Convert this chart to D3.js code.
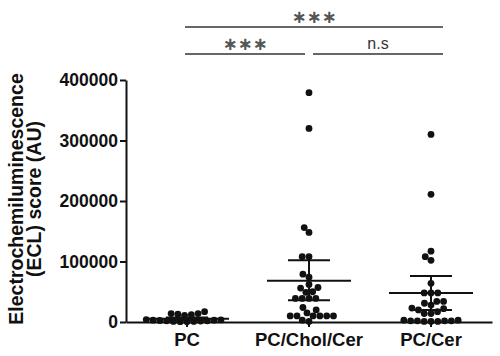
<!DOCTYPE html>
<html>
<head>
<meta charset="utf-8">
<script src="https://cdn.jsdelivr.net/npm/d3@7"></script>
<style>
  html, body { margin: 0; padding: 0; background: #fff; }
  svg { display: block; font-family: "Liberation Sans", Arial, sans-serif; }
  .axis path, .axis line { stroke: #111; stroke-width: 2; }
  .axis text { fill: #111; font-weight: bold; }
</style>
</head>
<body>
<svg id="chart" width="500" height="356"></svg>
<script>
const groups = ["PC", "PC/Chol/Cer", "PC/Cer"];

// ECL scores (AU)
const pcValues = [17000, 14000, 14000, 13000, 12000, 11000, 4000, 3500, 3000, 3000, 2500,
  2000, 2000, 1500, 1000, 1000, 500, 500];
const cholValues = [379000, 320000, 156000, 148000, 108000, 108000, 79000, 74000, 62000, 57000,
  56000, 50000, 49000, 39000, 39000, 39000, 39000, 24000, 20000, 15000, 10000, 10000, 10000,
  10000, 10000, 10000, 3000, 1000];
const cerValues = [310000, 211000, 117000, 108000, 102000, 64000, 48000, 48000, 48000, 34000,
  34000, 31000, 28000, 23000, 22000, 20000, 17000, 14000, 14000, 3000, 3000, 2000, 2000, 2000,
  2000, 1000, 1000, 1000];

const means = [5500, 68000, 48000];
const errLow = [3500, 36000, 20000];
const errHigh = [7500, 102000, 76000];

const yTicks = [0, 100000, 200000, 300000, 400000];

const sigFrom = ["PC", "PC/Chol/Cer", "PC"];
const sigTo = ["PC/Chol/Cer", "PC/Cer", "PC/Cer"];
const sigLabels = ["***", "n.s", "***"];
const sigRows = [0, 0, 1];

const svg = d3.select("#chart");
const width = 500, height = 356;
const margin = { top: 80, right: 8, bottom: 34, left: 126 };

const x = d3.scaleBand().domain(groups).range([margin.left, width - margin.right]).padding(0);
const y = d3.scaleLinear().domain([0, 400000]).range([height - margin.bottom, margin.top]);
const cx = g => x(g) + x.bandwidth() / 2;

svg.append("rect").attr("width", width).attr("height", height).attr("fill", "#fff");

// axes
const yAxis = svg.append("g").attr("class", "axis")
  .attr("transform", `translate(${margin.left},0)`)
  .call(d3.axisLeft(y).tickValues(yTicks).tickSize(6).tickSizeOuter(0).tickPadding(2).tickFormat(d3.format("d")));
yAxis.selectAll("text").style("font-size", "17.5px");

const xAxis = svg.append("g").attr("class", "axis")
  .attr("transform", `translate(0,${height - margin.bottom})`)
  .call(d3.axisBottom(x).tickSize(5).tickSizeOuter(0).tickPadding(6));
xAxis.selectAll("text").style("font-size", "18.5px");

// y axis title, two lines
const title = svg.append("text")
  .attr("transform", `translate(0,${(margin.top + height - margin.bottom) / 2 - 2}) rotate(-90)`)
  .attr("text-anchor", "middle")
  .attr("fill", "#111")
  .style("font-size", "19.5px")
  .style("font-weight", "bold");
title.append("tspan").attr("x", 0).attr("y", 23).text("Electrochemiluminescence");
title.append("tspan").attr("x", 0).attr("y", 41).text("(ECL) score (AU)");

// beeswarm: put each dot as close to the centre as it can go without overlapping
const r = 3.4;
function swarm(values) {
  const placed = [];
  const pts = values.map(v => ({ value: v, py: y(v) })).sort((a, b) => a.value - b.value);
  const d = 2 * r;
  for (const p of pts) {
    const near = placed.filter(q => Math.abs(q.py - p.py) < d);
    const cands = [0];
    near.forEach(q => {
      const dx = Math.sqrt(d * d - (q.py - p.py) ** 2);
      cands.push(q.dx - dx, q.dx + dx);
    });
    cands.sort((a, b) => Math.abs(a) - Math.abs(b));
    p.dx = cands.find(c => near.every(q => (q.dx - c) ** 2 + (q.py - p.py) ** 2 >= d * d - 0.01));
    placed.push(p);
  }
  return placed;
}

const seriesValues = [pcValues, cholValues, cerValues];
groups.forEach((g, i) => {
  svg.append("g").selectAll("circle")
    .data(swarm(seriesValues[i]))
    .join("circle")
    .attr("cx", d => cx(g) + d.dx)
    .attr("cy", d => d.py)
    .attr("r", r)
    .attr("fill", "#111");
});

// mean and error bars
const bars = svg.append("g").attr("stroke", "#111").attr("stroke-width", 2);
groups.forEach((g, i) => {
  const c = cx(g);
  bars.append("line").attr("x1", c).attr("x2", c).attr("y1", y(errLow[i])).attr("y2", y(errHigh[i]));
  bars.append("line").attr("x1", c - 42).attr("x2", c + 42).attr("y1", y(means[i])).attr("y2", y(means[i]));
  bars.append("line").attr("x1", c - 21).attr("x2", c + 21).attr("y1", y(errLow[i])).attr("y2", y(errLow[i]));
  bars.append("line").attr("x1", c - 21).attr("x2", c + 21).attr("y1", y(errHigh[i])).attr("y2", y(errHigh[i]));
});

// significance brackets
const rowY = [54, 27];
const sig = svg.append("g");
sigLabels.forEach((lab, i) => {
  const a = sigFrom[i], b = sigTo[i];
  const x1 = a === groups[0] ? cx(a) - 2 : cx(a) + 4;
  const x2 = b === groups[groups.length - 1] ? cx(b) + 12 : cx(b) - 4;
  const ly = rowY[sigRows[i]];
  sig.append("line").attr("x1", x1).attr("x2", x2).attr("y1", ly).attr("y2", ly)
    .attr("stroke", "#333").attr("stroke-width", 1.6);
  const isStar = lab.startsWith("*");
  sig.append("text")
    .attr("x", (x1 + x2) / 2)
    .attr("y", isStar ? ly - 11 : ly - 5)
    .attr("dominant-baseline", isStar ? "central" : "auto")
    .attr("text-anchor", "middle")
    .attr("fill", isStar ? "#555" : "#333")
    .style("font-family", isStar ? "DejaVu Sans" : "Liberation Sans, Arial, sans-serif")
    .style("font-weight", isStar ? "bold" : "normal")
    .style("font-size", isStar ? "18px" : "16px")
    .text(isStar ? lab.replace(/\*/g, "\u2217") : lab);
});
</script>
</body>
</html>
